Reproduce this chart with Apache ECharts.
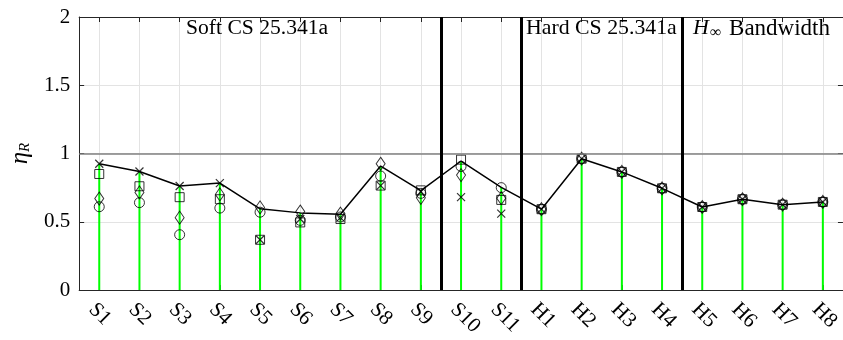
<!DOCTYPE html>
<html>
<head>
<meta charset="utf-8">
<script src="https://cdn.jsdelivr.net/npm/echarts@6/dist/echarts.min.js"></script>
<style>html,body{margin:0;padding:0;background:#fff}#c{width:843px;height:340px}</style>
</head>
<body>
<div id="c"></div>
<script>
const categories = ['S1','S2','S3','S4','S5','S6','S7','S8','S9','S10','S11','H1','H2','H3','H4','H5','H6','H7','H8'];
const lineVals    = [0.925,0.868,0.762,0.783,0.595,0.565,0.555,0.908,0.728,0.945,0.752,0.592,0.962,0.865,0.745,0.608,0.665,0.625,0.645];
const crossVals   = [0.925,0.868,0.762,0.783,0.368,0.520,0.530,0.765,0.720,0.680,0.560,0.592,0.962,0.865,0.745,0.608,0.665,0.625,0.645];
const squareVals  = [0.850,0.760,0.680,0.665,0.368,0.495,0.520,0.765,0.730,0.955,0.660,0.592,0.962,0.865,0.745,0.608,0.665,0.625,0.645];
const diamondVals = [0.670,0.715,0.530,0.700,0.605,0.575,0.560,0.925,0.675,0.842,0.672,0.592,0.962,0.865,0.745,0.608,0.665,0.625,0.645];
const circleVals  = [0.610,0.640,0.405,0.600,0.570,0.510,0.535,0.835,0.708,0.905,0.750,0.592,0.962,0.865,0.745,0.608,0.665,0.625,0.645];
const separators  = [9, 11, 15];
const refLevel    = 1;
const regionTexts = ['Soft CS 25.341a', 'Hard CS 25.341a', '{i|H}{s|\u221e} Bandwidth'];

const FONT = 'Liberation Serif';
const chart = echarts.init(document.getElementById('c'), null, {renderer: 'canvas'});
const hollow = {color: 'rgba(0,0,0,0)', borderColor: '#000', borderWidth: 1};
const crossStyle = {color: 'rgba(0,0,0,0)', borderColor: '#000', borderWidth: 1.2};
const crossPath = 'path://M0,0L10,10M0,10L10,0';

chart.setOption({
  animation: false,
  grid: {left: 75, right: 0, top: 17, bottom: 50, show: false},
  xAxis: [
    {type: 'category', data: categories, position: 'bottom',
     axisLine: {show: true, lineStyle: {color: '#262626', width: 1}},
     axisTick: {show: true, inside: true, alignWithLabel: true, length: 5, lineStyle: {color: '#262626'}},
     splitLine: {show: true, alignWithLabel: true, lineStyle: {color: '#e3e3e3', width: 1}},
     axisLabel: {rotate: -45, verticalAlign: 'top', margin: 9, fontFamily: FONT, fontSize: 21, color: '#000', interval: 0}},
    {type: 'category', data: categories, position: 'top',
     axisLine: {show: true, onZero: false, lineStyle: {color: '#262626', width: 1}},
     axisTick: {show: true, inside: true, alignWithLabel: true, length: 5, lineStyle: {color: '#262626'}},
     axisLabel: {show: false}, splitLine: {show: false}},
    {type: 'value', min: 0, max: categories.length, show: false}
  ],
  yAxis: [
    {type: 'value', min: 0, max: 2, interval: 0.5, position: 'left',
     axisLine: {show: true, lineStyle: {color: '#262626', width: 1}},
     axisTick: {show: true, inside: true, length: 5, lineStyle: {color: '#262626'}},
     splitLine: {show: true, lineStyle: {color: '#e3e3e3', width: 1}},
     axisLabel: {fontFamily: FONT, fontSize: 21, color: '#000', margin: 9},
     name: '{a|\u03b7}{b|R}', nameLocation: 'middle', nameGap: 44, nameRotate: 90,
     nameTextStyle: {rich: {
       a: {fontFamily: FONT, fontSize: 25, fontStyle: 'italic', color: '#000'},
       b: {fontFamily: FONT, fontSize: 15, fontStyle: 'italic', color: '#000', padding: [10, 0, 0, 0]}
     }}},
    {type: 'value', min: 0, max: 2, interval: 0.5, position: 'right',
     axisLine: {show: true, lineStyle: {color: '#262626', width: 1}},
     axisTick: {show: true, inside: true, length: 5, lineStyle: {color: '#262626'}},
     axisLabel: {show: false}, splitLine: {show: false}}
  ],
  graphic: [
    {type: 'text', left: 186, top: 17, z: 20, style: {text: regionTexts[0], font: '21.6px "' + FONT + '"', fill: '#000'}},
    {type: 'text', left: 526, top: 17, z: 20, style: {text: regionTexts[1], font: '21.8px "' + FONT + '"', fill: '#000'}},
    {type: 'text', left: 693, top: 17, z: 20, style: {text: regionTexts[2], font: '23px "' + FONT + '"', fill: '#000',
      rich: {i: {fontFamily: FONT, fontSize: 22, fontStyle: 'italic'}, s: {fontFamily: FONT, fontSize: 16, padding: [8, 2, 0, 1]}}}}
  ],
  series: [
    {type: 'bar', xAxisIndex: 0, yAxisIndex: 0, data: lineVals, barWidth: 2,
     itemStyle: {color: '#00ff00'}, z: 2, silent: true},
    {type: 'line', xAxisIndex: 0, yAxisIndex: 0, data: lineVals, symbol: 'none',
     lineStyle: {color: '#000', width: 1.5}, z: 3,
     markLine: {silent: true, symbol: 'none', label: {show: false},
       lineStyle: {color: '#808080', width: 1.5, type: 'solid'},
       data: [{yAxis: refLevel}]}},
    {type: 'scatter', xAxisIndex: 0, yAxisIndex: 0, data: circleVals, symbol: 'circle', symbolSize: 10, itemStyle: hollow, z: 4},
    {type: 'scatter', xAxisIndex: 0, yAxisIndex: 0, data: squareVals, symbol: 'rect', symbolSize: 9, itemStyle: hollow, z: 4},
    {type: 'scatter', xAxisIndex: 0, yAxisIndex: 0, data: diamondVals, symbol: 'diamond', symbolSize: [9, 13], itemStyle: hollow, z: 4},
    {type: 'scatter', xAxisIndex: 0, yAxisIndex: 0, data: crossVals, symbol: crossPath, symbolSize: 8, itemStyle: crossStyle, z: 4},
    {type: 'line', xAxisIndex: 2, yAxisIndex: 0, data: [], z: 6,
     markLine: {silent: true, symbol: 'none', label: {show: false},
       lineStyle: {color: '#000', width: 3, type: 'solid'},
       data: separators.map(v => ({xAxis: v}))}}
  ]
});
</script>
</body>
</html>
